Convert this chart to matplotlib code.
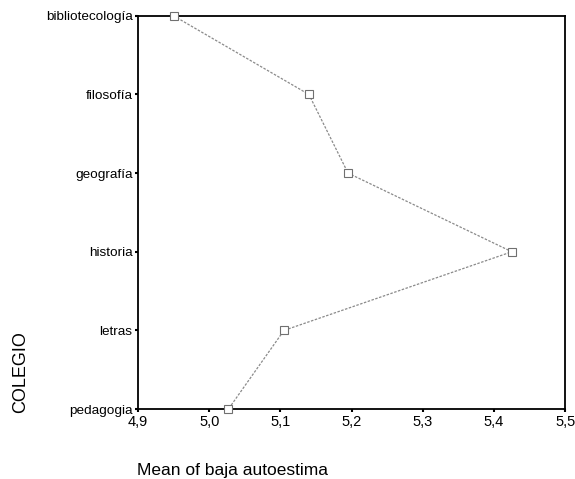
import matplotlib
matplotlib.use("Agg")
import matplotlib.pyplot as plt

colegios = ["bibliotecología", "filosofía", "geografía", "historia", "letras", "pedagogia"]
medias = [4.95, 5.14, 5.195, 5.425, 5.105, 5.027]
xticks = [4.9, 5.0, 5.1, 5.2, 5.3, 5.4, 5.5]

plt.rcParams["font.family"] = ["Liberation Sans", "DejaVu Sans"]

fig = plt.figure(figsize=(5.75, 4.79), dpi=100)
ax = fig.add_axes([0.240, 0.146, 0.743, 0.821])

ypos = list(range(len(colegios)))[::-1]
ax.plot(medias, ypos, color="#8a8a8a", linestyle=(0, (2, 1.2)), linewidth=0.9,
        marker="s", markersize=6, markerfacecolor="white", markeredgecolor="#707070",
        markeredgewidth=0.8, clip_on=False, zorder=3)

ax.set_xlim(4.9, 5.5)
ax.set_ylim(0, len(colegios) - 1)
ax.set_yticks(ypos)
ax.set_yticklabels(colegios, fontsize=9.7)
ax.set_xticks(xticks)
ax.set_xticklabels([f"{v:.1f}".replace(".", ",") for v in xticks], fontsize=10.5)
ax.tick_params(axis="both", direction="out", length=2.5, width=1.5, pad=1.5)

for s in ax.spines.values():
    s.set_linewidth(1.3)

fig.text(137 / 575, 1 - 470 / 479, "Mean of baja autoestima", fontsize=12.5, ha="left", va="center")
fig.text(21 / 575, 1 - 372 / 479, "COLEGIO", fontsize=13, rotation=90, ha="center", va="center")

fig.savefig("out.png", dpi=100)
